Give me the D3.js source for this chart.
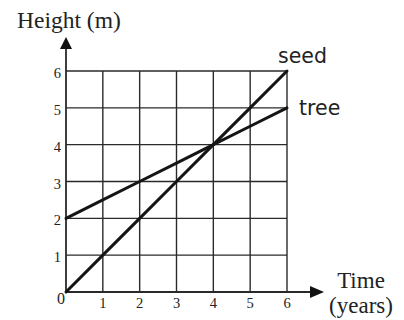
<!DOCTYPE html>
<html>
<head>
<meta charset="utf-8">
<script src="https://cdn.jsdelivr.net/npm/d3@7"></script>
<style>
  html, body { margin: 0; padding: 0; background: #fff; }
  svg { display: block; }
</style>
</head>
<body>
<svg id="chart" width="404" height="320"></svg>
<script>
// Years on the horizontal axis, height in metres on the vertical axis
const years = [0, 1, 2, 3, 4, 5, 6];
const seedHeights = [0, 1, 2, 3, 4, 5, 6];
const treeHeights = [2, 2.5, 3, 3.5, 4, 4.5, 5];
const xTickLabels = [1, 2, 3, 4, 5, 6];
const yTickLabels = [1, 2, 3, 4, 5, 6];

const ink = "#2a2a2a";
const svg = d3.select("#chart");

const x = d3.scaleLinear().domain([0, 6]).range([66, 287]);
const y = d3.scaleLinear().domain([0, 6]).range([292, 71]);

// grid
const grid = svg.append("g").attr("stroke", ink).attr("stroke-width", 1.4);
grid.selectAll("line.v").data(xTickLabels).join("line")
  .attr("x1", d => x(d)).attr("x2", d => x(d))
  .attr("y1", y(0)).attr("y2", y(6));
grid.selectAll("line.h").data(yTickLabels).join("line")
  .attr("x1", x(0)).attr("x2", x(6))
  .attr("y1", d => y(d)).attr("y2", d => y(d));

// axes with arrowheads
svg.append("line").attr("x1", x(0)).attr("x2", x(0))
  .attr("y1", y(0)).attr("y2", 46).attr("stroke", ink).attr("stroke-width", 1.8);
svg.append("path")
  .attr("d", `M${x(0)},37 L${x(0) - 6},49 L${x(0) + 6},49 Z`).attr("fill", "#111");
svg.append("line").attr("x1", x(0)).attr("x2", 312)
  .attr("y1", y(0)).attr("y2", y(0)).attr("stroke", ink).attr("stroke-width", 1.8);
svg.append("path")
  .attr("d", `M324,${y(0)} L310,${y(0) - 6} L310,${y(0) + 6} Z`).attr("fill", "#111");

// tick labels
const serif = "'Liberation Serif', 'Times New Roman', serif";
svg.append("g").selectAll("text").data(xTickLabels).join("text")
  .attr("x", d => x(d)).attr("y", y(0) + 16)
  .attr("text-anchor", "middle")
  .attr("font-family", serif).attr("font-size", 14.5).attr("fill", "#222")
  .text(d => d);
svg.append("g").selectAll("text").data(yTickLabels).join("text")
  .attr("x", x(0) - 5).attr("y", d => y(d) + 7)
  .attr("text-anchor", "end")
  .attr("font-family", serif).attr("font-size", 14.5).attr("fill", "#222")
  .text(d => d);
svg.append("text").attr("x", x(0) - 1).attr("y", y(0) + 12)
  .attr("text-anchor", "end")
  .attr("font-family", serif).attr("font-size", 16).attr("fill", "#222")
  .text("0");

// axis titles
svg.append("text").attr("x", 17).attr("y", 28)
  .attr("font-family", serif).attr("font-size", 23.5).attr("fill", "#222")
  .text("Height (m)");
svg.append("text").attr("x", 361).attr("y", 288)
  .attr("text-anchor", "middle")
  .attr("font-family", serif).attr("font-size", 23).attr("fill", "#222")
  .text("Time");
svg.append("text").attr("x", 361).attr("y", 313)
  .attr("text-anchor", "middle")
  .attr("font-family", serif).attr("font-size", 23).attr("fill", "#222")
  .text("(years)");

// data lines
const line = d3.line().x(d => x(d[0])).y(d => y(d[1]));
const series = [
  { name: "seed", values: seedHeights },
  { name: "tree", values: treeHeights }
];
svg.append("g").selectAll("path").data(series).join("path")
  .attr("d", s => line(years.map((t, i) => [t, s.values[i]])))
  .attr("fill", "none").attr("stroke", "#151515").attr("stroke-width", 3)
  .attr("stroke-linecap", "round");

// series labels
const sans = "'DejaVu Sans', sans-serif";
svg.append("text").attr("x", 278).attr("y", y(seedHeights[6]) - 8)
  .attr("font-family", sans).attr("font-size", 20.5).attr("fill", "#222")
  .text("seed");
svg.append("text").attr("x", 299).attr("y", y(treeHeights[6]) + 7)
  .attr("font-family", sans).attr("font-size", 20.5).attr("fill", "#222")
  .text("tree");
</script>
</body>
</html>
